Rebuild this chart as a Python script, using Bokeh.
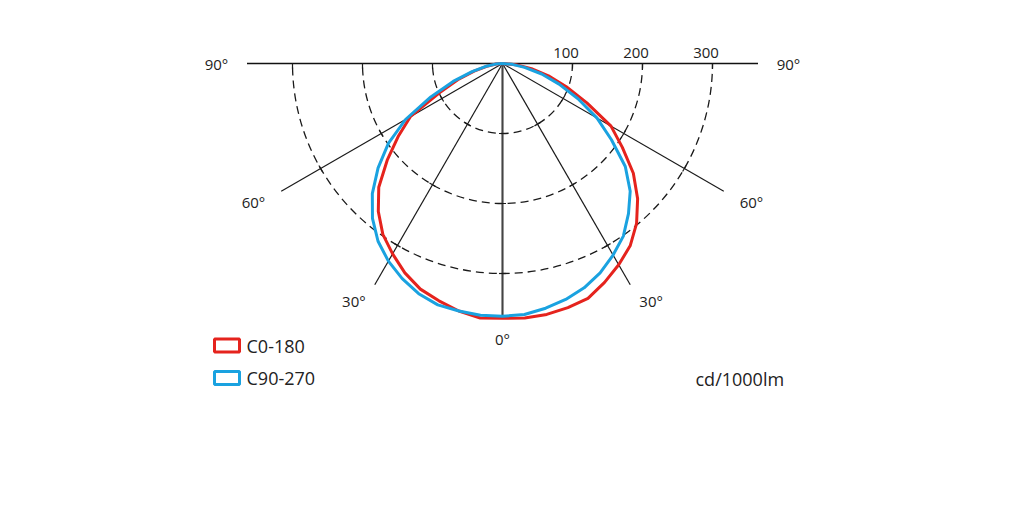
import numpy as np
from bokeh.plotting import figure
from bokeh.models import Range1d
from bokeh.core.properties import value
from bokeh.embed import file_html
from bokeh.resources import INLINE

# ---- data (cd/1000lm) ----
angles = [0, 5, 10, 15, 20, 25, 30, 35, 40, 45, 50, 55, 60, 65, 70, 75, 80, 85, 90]
c0   = [365, 365, 364, 361, 357, 345, 332, 318, 298, 273, 244, 209, 179, 133, 97, 68, 42, 19, 0]
c180 = [364, 365, 359, 351, 343, 330, 314, 298, 276, 250, 215, 182, 152, 100, 68, 42, 23, 9, 0]
c90  = [363, 360, 355, 349, 341, 330, 316, 301, 280, 258, 229, 190, 156, 119, 86, 58, 32, 14, 0]
c270 = [361, 361, 359, 357, 350, 339, 326, 310, 289, 263, 232, 199, 160, 113, 75, 45, 25, 10, 0]
rings = [100, 200, 300]
ring_labels = ["100", "200", "300"]
spoke_angles = [0, 30, 60]
angle_labels = ["0°", "30°", "60°", "90°"]
series_names = ["C0-180", "C90-270"]
unit_label = "cd/1000lm"

RED = "#e5231d"
BLUE = "#1aa2e0"
TXT = "#222222"
FONT = value("Open Sans")

# ---- layout: 0.7 px per cd, pole at page (502, 63) ----
S = 0.7
W, H = 1008, 502
cx, cy = 502, 63
x0 = -cx / S
y1 = cy / S

p = figure(width=W, height=H, output_backend="svg", toolbar_location=None,
           x_range=Range1d(x0, x0 + W / S), y_range=Range1d(y1 - H / S, y1),
           min_border=0, min_border_left=0, min_border_right=0,
           min_border_top=0, min_border_bottom=0)
p.axis.visible = False
p.grid.visible = False
p.outline_line_color = None
p.background_fill_color = "white"
p.border_fill_color = "white"

RMAX = 365.0
px = 1.0 / S  # one pixel in data units

# dashed rings (lower half)
p.arc(x=[0] * len(rings), y=[0] * len(rings), radius=rings,
      start_angle=np.pi, end_angle=2 * np.pi, direction="anticlock",
      line_color="#1a1a1a", line_width=1.3, line_dash="8 5", line_dash_offset=9)

# horizontal 90° line
p.line([-RMAX, RMAX], [0, 0], line_color="#111111", line_width=1.5)

# spokes
xs, ys = [], []
for a in spoke_angles:
    for sgn in ([1] if a == 0 else [-1, 1]):
        t = np.radians(a) * sgn
        xs.append([0, RMAX * np.sin(t)])
        ys.append([0, -RMAX * np.cos(t)])
p.multi_line(xs, ys, line_color="#1a1a1a", line_width=1.2)
p.line([0, 0], [0, -RMAX], line_color="#444444", line_width=2)

# tick marks
txs, tys = [], []
for r in rings:
    for sgn in [-1, 1]:
        txs.append([sgn * r, sgn * r])
        tys.append([0, -5 * px])
    for a in spoke_angles:
        for sgn in ([1] if a == 0 else [-1, 1]):
            t = np.radians(a) * sgn
            mx, my = r * np.sin(t), -r * np.cos(t)
            dx, dy = np.cos(t) * 3.5 * px, np.sin(t) * 3.5 * px
            txs.append([mx - dx, mx + dx])
            tys.append([my - dy, my + dy])
p.multi_line(txs, tys, line_color="#1a1a1a", line_width=1.2)


def curve(left, right):
    th = np.radians(np.array(angles, dtype=float))
    l = np.array(left, dtype=float)
    r = np.array(right, dtype=float)
    xl, yl = -l * np.sin(th), -l * np.cos(th)
    xr, yr = r * np.sin(th), -r * np.cos(th)
    x = np.concatenate([xl[::-1], xr[1:]])
    y = np.concatenate([yl[::-1], yr[1:]])
    return x, y


xr_, yr_ = curve(c180, c0)
p.line(xr_, yr_, line_color=RED, line_width=3, line_join="round")
xb_, yb_ = curve(c270, c90)
p.line(xb_, yb_, line_color=BLUE, line_width=3, line_join="round")

# ring labels
p.text(x=rings, y=[0] * len(rings), text=ring_labels, x_offset=-6.5, y_offset=-11,
       text_font=FONT, text_font_size="15px", text_color=TXT,
       text_align="center", text_baseline="middle")

# angle labels (angle, distance in px)
lab_geo = {"0°": (0, 275), "30°": (32, 280.5), "60°": (61, 284.7), "90°": (90, 286)}
lx, ly, lt = [], [], []
for lab in angle_labels:
    a, d = lab_geo[lab]
    for sgn in ([1] if a == 0 else [-1, 1]):
        t = np.radians(a) * sgn
        lx.append(d * px * np.sin(t))
        ly.append(-d * px * np.cos(t))
        lt.append(lab)
p.text(x=lx, y=ly, text=lt, text_font=FONT, text_font_size="15px",
       text_color=TXT, text_align="center", text_baseline="middle")

# legend
leg_x = (226.5 - 502) * px
leg_y = [(63 - 345) * px, (63 - 377.5) * px]
p.rect(x=[leg_x, leg_x], y=leg_y, width=25, height=13, width_units="screen",
       height_units="screen", fill_color=None, line_color=[RED, BLUE], line_width=3)
p.text(x=[(246 - 502) * px] * 2, y=leg_y, text=series_names, text_font=FONT,
       text_font_size="18px", text_color=TXT, text_align="left", text_baseline="middle")

p.text(x=[(695 - 502) * px], y=[(63 - 378) * px], text=[unit_label], text_font=FONT,
       text_font_size="18px", text_color=TXT, text_align="left", text_baseline="middle")

open("out.html", "w").write(file_html(p, INLINE))
